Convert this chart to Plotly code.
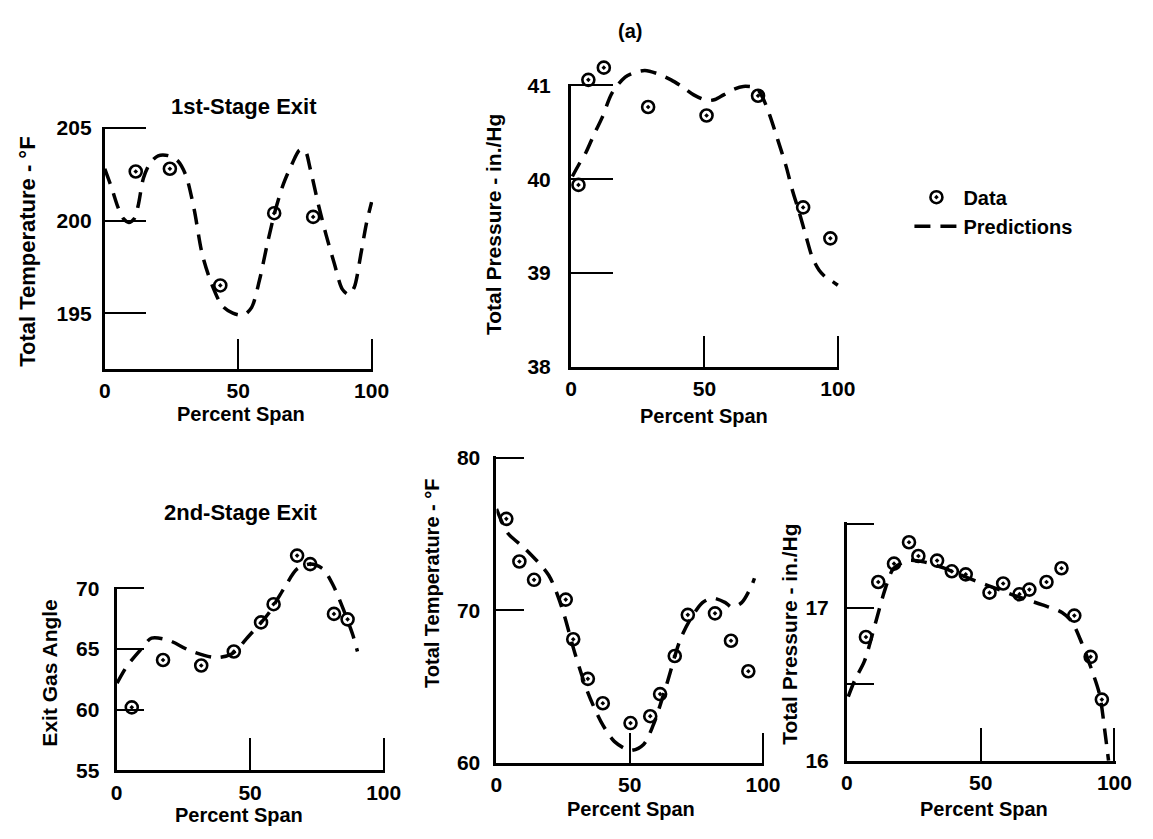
import plotly.graph_objects as go

W, H = 1153, 839

# ---------------- data ----------------
# Panel 1: 1st-stage exit, total temperature (deg F)
p1_span = [11.6, 24.4, 43.3, 63.5, 78.1]
p1_temp = [202.65, 202.8, 196.5, 200.4, 200.2]
p1_pred_span = [0, 2.5, 5, 7, 9, 11, 12.5, 14.5, 17, 20, 24, 27.5, 30.5, 33.5, 36.5, 40, 44, 48, 52,
                55, 58, 61, 64, 67, 70, 73, 75, 77, 80, 83, 86, 89, 91.5, 93.5, 96, 98, 100]
p1_pred_temp = [202.8, 201.8, 200.7, 200.1, 199.9, 200.1, 200.8, 202.3, 203.1, 203.5, 203.5, 203.2,
                202.4, 200.6, 198.2, 196.6, 195.4, 195.0, 194.9, 195.3, 196.8, 198.8, 200.6, 202.0,
                203.0, 203.8, 203.8, 202.8, 200.9, 199.2, 197.7, 196.3, 196.0, 196.4, 198.2, 199.8, 201.0]

# Panel 2: 1st-stage exit, total pressure (in. Hg)
p2_span = [2.8, 6.5, 12.3, 28.9, 50.8, 70.1, 87.0, 97.2]
p2_pres = [39.94, 41.06, 41.19, 40.77, 40.68, 40.89, 39.70, 39.37]
p2_pred_span = [0.5, 3, 5.5, 8.5, 11.7, 15.4, 20.3, 24, 27.7, 32, 37.5, 42, 46, 51, 54, 57.2, 61,
                64.6, 69.5, 72, 74.4, 77.5, 80.6, 83, 85.5, 88, 90.4, 93, 95.3, 98, 100]
p2_pred_pres = [40.03, 40.16, 40.28, 40.47, 40.66, 40.92, 41.09, 41.14, 41.16, 41.13, 41.06, 40.98,
                40.90, 40.84, 40.85, 40.90, 40.96, 40.99, 40.97, 40.86, 40.69, 40.42, 40.14, 39.88,
                39.65, 39.40, 39.17, 39.03, 38.96, 38.91, 38.87]

# Panel 3: 2nd-stage exit, exit gas angle
p3_span = [5.7, 17.4, 31.7, 43.9, 54.1, 58.8, 67.6, 72.5, 81.4, 86.5]
p3_angle = [60.2, 64.1, 63.65, 64.8, 67.2, 68.7, 72.7, 72.0, 67.9, 67.45]
p3_pred_span = [0.2, 3.9, 8.8, 13.1, 19.8, 27.2, 36.9, 43.1, 49.2, 56.6, 62.7, 67.6, 72.5, 77.3,
                81.0, 84.7, 88.4, 90.2]
p3_pred_angle = [62.2, 63.6, 64.9, 65.9, 65.7, 64.9, 64.3, 64.6, 66.0, 67.85, 70.0, 71.6, 72.0,
                 71.6, 70.3, 68.4, 66.2, 64.8]

# Panel 4: 2nd-stage exit, total temperature (deg F)
p4_span = [3.7, 8.6, 14.1, 26.0, 28.8, 34.3, 39.9, 50.3, 57.7, 61.4, 66.9, 71.8, 82.0, 88.0, 94.5]
p4_temp = [76.0, 73.2, 72.0, 70.7, 68.1, 65.5, 63.9, 62.6, 63.05, 64.5, 67.0, 69.7, 69.8, 68.0, 66.0]
p4_pred_span = [0, 4.3, 11.0, 19.6, 24.5, 29.4, 34.3, 39.2, 44.2, 50.3, 55.2, 58.9, 63.8, 68.8,
                72.4, 77.3, 81.0, 85.9, 88.3, 92.0, 95.7, 96.8]
p4_pred_temp = [76.65, 75.05, 74.0, 72.3, 70.2, 67.2, 64.6, 62.7, 61.4, 60.8, 61.2, 62.5, 65.1,
                68.0, 69.3, 70.5, 70.8, 70.5, 70.2, 70.5, 71.6, 72.1]

# Panel 5: 2nd-stage exit, total pressure (in. Hg)
p5_span = [7.1, 11.7, 17.6, 23.2, 26.7, 33.7, 39.2, 44.4, 53.3, 58.4, 64.5, 68.2, 74.6, 80.2,
           85.0, 91.1, 95.3]
p5_pres = [16.81, 17.17, 17.29, 17.43, 17.34, 17.31, 17.24, 17.22, 17.10, 17.16, 17.09, 17.12,
           17.17, 17.26, 16.95, 16.68, 16.40]
p5_pred_span = [0.5, 3, 6.5, 10.8, 14.4, 17.5, 23, 29.1, 36.4, 46.2, 52.3, 64.5, 73.1, 80.4, 84.1,
                87.8, 91.4, 94.5, 96.3, 97.8]
p5_pred_pres = [16.42, 16.53, 16.65, 16.91, 17.13, 17.26, 17.31, 17.30, 17.26, 17.19, 17.15, 17.07,
                17.02, 16.97, 16.91, 16.77, 16.60, 16.43, 16.21, 16.0]

x_ticks = [0, 50, 100]
x_ticktext = ["0", "50", "100"]

# ---------------- layout specs (pixel placement) ----------------
FONT = "Liberation Sans, Arial, Helvetica, sans-serif"
panels = [
    dict(xs=p1_span, ys=p1_temp, xp=p1_pred_span, yp=p1_pred_temp,
         x0=100.7, y0=368, sx=2.72, sy=19.0, ymin=192, ymax=205.5, ytop=205,
         ytv=[195, 200, 205], ytt=["195", "200", "205"], ylen=41, xlen=30, ystand=6),
    dict(xs=p2_span, ys=p2_pres, xp=p2_pred_span, yp=p2_pred_pres,
         x0=576, y0=366, sx=2.72, sy=96.2, ymin=38, ymax=41.35, ytop=41,
         ytv=[38, 39, 40, 41], ytt=["38", "39", "40", "41"], ylen=42, xlen=31, ystand=13),
    dict(xs=p3_span, ys=p3_angle, xp=p3_pred_span, yp=p3_pred_angle,
         x0=112.7, y0=780, sx=2.723, sy=12.45, ymin=55, ymax=73.6, ytop=70,
         ytv=[55, 60, 65, 70], ytt=["55", "60", "65", "70"], ylen=27, xlen=32, ystand=10),
    dict(xs=p4_span, ys=p4_temp, xp=p4_pred_span, yp=p4_pred_temp,
         x0=500, y0=772, sx=2.717, sy=15.63, ymin=60, ymax=80.3, ytop=80,
         ytv=[60, 70, 80], ytt=["60", "70", "80"], ylen=28, xlen=30, ystand=9),
    dict(xs=p5_span, ys=p5_pres, xp=p5_pred_span, yp=p5_pred_pres,
         x0=857.3, y0=770, sx=2.727, sy=156.7, ymin=16, ymax=17.62, ytop=17.55,
         ytv=[16, 16.5, 17, 17.55], ytt=["16", "", "17", ""], ylen=27, xlen=33, ystand=11),
]

fig = go.Figure()
layout = {}
tickfont = dict(family=FONT, size=21, color="black", weight="bold")
n = len(panels)

for i, p in enumerate(panels, start=1):
    xa = "x" if i == 1 else f"x{i}"
    ya = "y" if i == 1 else f"y{i}"          # visible axis: frame, ticks, labels
    yd = f"y{i + n}"                          # hidden axis (same scale, taller) carrying the data
    xkey = "xaxis" if i == 1 else f"xaxis{i}"
    ykey = "yaxis" if i == 1 else f"yaxis{i}"
    dkey = f"yaxis{i + n}"
    xend = 100 + 1.5 / p["sx"]               # keep the end tick from being clipped
    yend = p["ytop"] + 1.5 / p["sy"]
    left = p["x0"]
    right = p["x0"] + xend * p["sx"]
    bottom = p["y0"]
    top_vis = p["y0"] - (yend - p["ymin"]) * p["sy"]
    top_dat = p["y0"] - (p["ymax"] - p["ymin"]) * p["sy"]
    layout[xkey] = dict(domain=[left / W, right / W], range=[0, xend], anchor=ya,
                        showgrid=False, zeroline=False,
                        showline=True, linewidth=3, linecolor="black",
                        ticks="inside", ticklen=p["xlen"], tickwidth=1.6, tickcolor="black",
                        tickvals=x_ticks, ticktext=x_ticktext, tickfont=tickfont,
                        ticklabelstandoff=1)
    layout[ykey] = dict(domain=[1 - bottom / H, 1 - top_vis / H], range=[p["ymin"], yend],
                        anchor=xa, showgrid=False, zeroline=False,
                        showline=True, linewidth=3, linecolor="black",
                        ticks="inside", ticklen=p["ylen"], tickwidth=1.6, tickcolor="black",
                        tickvals=p["ytv"], ticktext=p["ytt"], tickfont=tickfont,
                        ticklabelstandoff=p["ystand"])
    layout[dkey] = dict(domain=[1 - bottom / H, 1 - top_dat / H], range=[p["ymin"], p["ymax"]],
                        anchor=xa, visible=False, showgrid=False, zeroline=False)
    # empty trace so the visible (framed) subplot is always built
    fig.add_trace(go.Scatter(x=[], y=[], xaxis=xa, yaxis=ya, mode="markers",
                             showlegend=False, hoverinfo="skip"))
    fig.add_trace(go.Scatter(x=p["xp"], y=p["yp"], xaxis=xa, yaxis=yd, mode="lines",
                             line=dict(color="black", width=3.5, dash="16px,10px", shape="spline",
                                       smoothing=0.8),
                             name="Predictions", showlegend=(i == 1), legendrank=2))
    fig.add_trace(go.Scatter(x=p["xs"], y=p["ys"], xaxis=xa, yaxis=yd, mode="markers",
                             marker=dict(symbol="circle-open-dot", size=12, color="black",
                                         line=dict(width=2.6, color="black")),
                             cliponaxis=False, name="Data", showlegend=(i == 1), legendrank=1))

annotations = []


def add_text(text, px, py, angle=0, size=21):
    annotations.append(dict(text=text, x=px / W, y=1 - py / H, xref="paper", yref="paper",
                            showarrow=False, xanchor="center", yanchor="middle",
                            textangle=angle,
                            font=dict(family=FONT, size=size, color="black", weight="bold")))


add_text("(a)", 636, 22, size=20)
add_text("1st-Stage Exit", 243, 99, size=22)
add_text("2nd-Stage Exit", 239, 515, size=22)
add_text("Percent Span", 240, 414, size=20)
add_text("Percent Span", 712, 416, size=20)
add_text("Percent Span", 238, 826, size=20)
add_text("Percent Span", 637, 820, size=20)
add_text("Percent Span", 997, 820, size=20)
add_text("Total Temperature - °F", 22.5, 248, angle=-90, size=22)
add_text("Total Pressure - in./Hg", 497, 220, angle=-90)
add_text("Exit Gas Angle", 44.5, 680, angle=-90)
add_text("Total Temperature - °F", 435, 588, angle=-90, size=20)
add_text("Total Pressure - in./Hg", 799, 640, angle=-90)

fig.update_layout(
    width=W, height=H,
    margin=dict(l=0, r=0, t=0, b=0),
    paper_bgcolor="white", plot_bgcolor="rgba(0,0,0,0)",
    annotations=annotations,
    legend=dict(x=921 / W, y=1 - 172 / H, xanchor="left", yanchor="top",
                bgcolor="rgba(0,0,0,0)", borderwidth=0, itemwidth=44,
                font=dict(family=FONT, size=20, color="black", weight="bold"),
                tracegroupgap=0),
    **layout,
)

fig.write_html("out.html")
